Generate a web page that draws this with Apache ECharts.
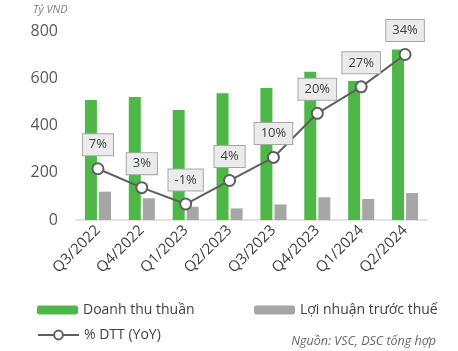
<!DOCTYPE html>
<html>
<head>
<meta charset="utf-8">
<script src="https://cdn.jsdelivr.net/npm/echarts@6/dist/echarts.min.js"></script>
<style>
  html, body { margin: 0; padding: 0; background: #fff; }
  #chart { width: 458px; height: 351px; }
</style>
</head>
<body>
<div id="chart"></div>
<script>
const quarters = ["Q3/2022", "Q4/2022", "Q1/2023", "Q2/2023", "Q3/2023", "Q4/2023", "Q1/2024", "Q2/2024"];
const revenue = [508, 521, 466, 536, 559, 628, 588, 722];
const profit = [120, 92, 56, 49, 66, 96, 89, 114];
const revenueYoY = [7.2, 2.7, -1.2, 4.4, 9.9, 20.4, 26.7, 34.4];
const yTicks = [0, 200, 400, 600, 800];

const font = "'Open Sans', 'Noto Sans', sans-serif";
const chart = echarts.init(document.getElementById("chart"));

chart.setOption({
  animation: false,
  textStyle: { fontFamily: font },
  grid: { left: 76, right: 31, top: 31, bottom: 131, containLabel: false },
  legend: [
    {
      data: ["Doanh thu thuần"], left: 32, top: 298, itemWidth: 41, itemHeight: 9,
      textStyle: { fontSize: 14, color: "#404040", fontFamily: font }
    },
    {
      data: ["Lợi nhuận trước thuế"], left: 249, top: 298, itemWidth: 41, itemHeight: 9,
      textStyle: { fontSize: 14, color: "#404040", fontFamily: font }
    },
    {
      data: ["% DTT (YoY)"], left: 32, top: 323, itemWidth: 41, itemHeight: 11,
      textStyle: { fontSize: 14, color: "#404040", fontFamily: font }
    }
  ],
  graphic: [
    {
      type: "text", left: 33, top: 4,
      style: { text: "Tỷ VND", font: "italic 11px " + font, fill: "#7f7f7f" }
    },
    {
      type: "text", right: 22, top: 335,
      style: { text: "Nguồn: VSC, DSC tổng hợp", font: "italic 12.5px " + font, fill: "#666" }
    }
  ],
  xAxis: {
    type: "category",
    data: quarters,
    axisLine: { lineStyle: { color: "#d9d9d9", width: 1.5 } },
    axisTick: { show: false },
    axisLabel: { interval: 0, rotate: 45, margin: 8, fontSize: 15, color: "#404040" }
  },
  yAxis: [
    {
      type: "value", min: yTicks[0], max: yTicks[yTicks.length - 1], interval: 200,
      axisLine: { show: false }, axisTick: { show: false }, splitLine: { show: false },
      axisLabel: { fontSize: 16, color: "#595959", margin: 18 }
    },
    {
      type: "value", min: -5, max: 40, show: false, splitLine: { show: false }
    }
  ],
  series: [
    {
      name: "Doanh thu thuần", type: "bar", data: revenue, barWidth: 12, barGap: "17%",
      itemStyle: { color: "#4db848" }
    },
    {
      name: "Lợi nhuận trước thuế", type: "bar", data: profit, barWidth: 12,
      itemStyle: { color: "#a6a6a6" }
    },
    {
      name: "% DTT (YoY)", type: "line", yAxisIndex: 1, data: revenueYoY,
      symbol: "circle", symbolSize: 11,
      lineStyle: { color: "#5f5f5f", width: 2 },
      itemStyle: { color: "#ffffff", borderColor: "#5f5f5f", borderWidth: 2 },
      label: {
        show: true, position: "top", distance: 7,
        formatter: (p) => Math.round(p.value) + "%",
        fontSize: 13, color: "#404040",
        backgroundColor: "#ebebeb", borderColor: "#a6a6a6", borderWidth: 1,
        padding: [4, 6]
      },
      z: 5
    }
  ]
});
</script>
</body>
</html>
